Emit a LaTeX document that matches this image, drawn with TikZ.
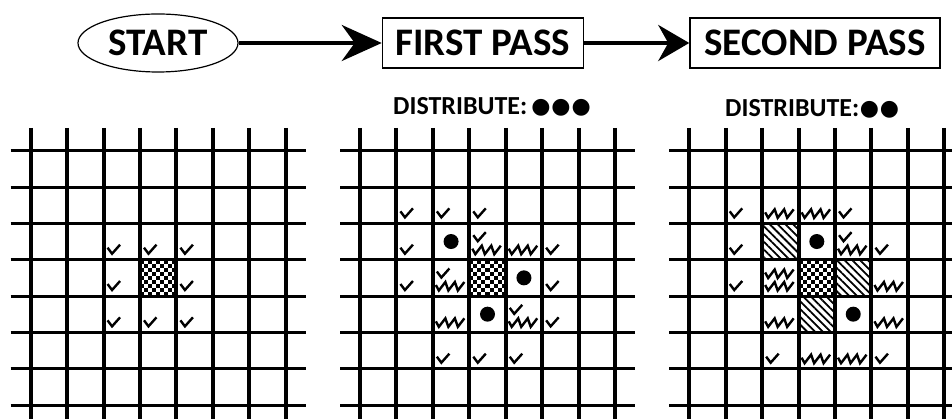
\documentclass[tikz,border=0pt]{standalone}
\usepackage{fontspec}
\setmainfont{Carlito}
\newfontfamily\dejavu{DejaVu Sans}
\usetikzlibrary{arrows.meta,shapes.geometric,patterns.meta}

\newcommand\gx{36.43}
\newcommand\gy{36.33}
\newcommand\gtop{150.7}
% mark: X, col, row, pic, level
\newcommand\mk[5]{\pic at ({#1+\gx*#2},{\gtop+\gy*(#3+1)-12.5*#5}) {#4};}
\newcommand\dt[3]{\fill ({#1+\gx*(#2+0.5)},{\gtop+\gy*(#3+0.5)}) circle (7.5pt);}
\newcommand\hatchat[3]{\fill[hatchcell] ({#1+\gx*#2},{\gtop+\gy*#3}) rectangle ++(\gx,\gy);}
\newcommand\checkerat[3]{%
  \begin{scope}
  \clip ({#1+\gx*#2},{\gtop+\gy*#3}) rectangle ++(\gx,\gy);
  \foreach \i in {0,...,8}{\foreach \j in {0,...,8}{%
    \pgfmathtruncatemacro\pq{mod(\i+\j,2)}%
    \ifnum\pq=0 \fill ({#1+\gx*#2+\i*\gx/9},{\gtop+\gy*#3+\j*\gy/9}) rectangle ++({\gx/9},{\gy/9});\fi}}
  \end{scope}}
\newcommand\gridat[1]{%
  \foreach \k in {0,...,7}{\draw[vline] ({#1+\gx*\k},128) -- ({#1+\gx*\k},419);}
  \foreach \k in {0,...,7}{\draw[hline] ({#1-20},{\gtop+\gy*\k}) -- ({#1+275},{\gtop+\gy*\k});}}
\newcommand\bigdots[1]{\raisebox{1.5pt}{\dejavu\fontsize{22}{24}\selectfont #1}}

\begin{document}
\begin{tikzpicture}[x=1pt,y=-1pt,
  vline/.style={line width=4pt},
  hline/.style={line width=3pt},
  tick/.style={line width=2.4pt, line join=miter, line cap=butt},
  hatchcell/.style={pattern={Lines[angle=-45,distance=5.5pt,line width=1.8pt]}},
  flowfont/.style={font=\bfseries\fontsize{39}{42}\selectfont},
  flowbox/.style={draw, line width=1.5pt, minimum height=50pt, inner sep=0pt, flowfont},
  distfont/.style={anchor=base west, inner sep=0pt, font=\bfseries\fontsize{26}{28}\selectfont},
  chkone/.pic={\draw[tick] (4,-12) -- (8.5,-6) -- (16.5,-15);},
  chkthree/.pic={\draw[tick] (3,-11) -- (6,-5.5) -- (12.5,-14) -- (15.5,-5.5) -- (22,-14) -- (25,-5.5) -- (31.5,-14);},
  flowarrow/.style={line width=4pt}
]
\useasboundingbox (0,0) rectangle (952,419);

% ---------- top flow ----------
\node[ellipse, draw, line width=1.2pt, minimum width=160pt, minimum height=58pt, inner sep=0pt,
  flowfont] (start) at (158,43) {START};
\node[flowbox, minimum width=201pt] (first) at (483,43) {FIRST PASS};
\node[flowbox, minimum width=250pt] (second) at (815,43) {SECOND PASS};
\draw[flowarrow, -{Stealth[length=40pt,width=36pt,inset=13pt]}] (start) -- (first);
\draw[flowarrow, -{Stealth[length=31pt,width=36pt,inset=10pt]}] (first) -- (second);

\node[distfont] (d1) at (393,115)
  {DISTRIBUTE:\kern4pt\bigdots{●\kern1pt●\kern1pt●}};
\node[distfont] (d2) at (725,117)
  {DISTRIBUTE:\kern0.5pt\bigdots{●\kern1pt●}};

% ---------- grid 1 ----------
\def\GA{30.7}
\checkerat{\GA}{3}{3}
\mk{\GA}{2}{2}{chkone}{0} \mk{\GA}{3}{2}{chkone}{0} \mk{\GA}{4}{2}{chkone}{0}
\mk{\GA}{2}{3}{chkone}{0} \mk{\GA}{4}{3}{chkone}{0}
\mk{\GA}{2}{4}{chkone}{0} \mk{\GA}{3}{4}{chkone}{0} \mk{\GA}{4}{4}{chkone}{0}
\gridat{\GA}

% ---------- grid 2 ----------
\def\GB{360}
\checkerat{\GB}{3}{3}
\dt{\GB}{2}{2} \dt{\GB}{4}{3} \dt{\GB}{3}{4}
\mk{\GB}{1}{1}{chkone}{0} \mk{\GB}{2}{1}{chkone}{0} \mk{\GB}{3}{1}{chkone}{0}
\mk{\GB}{1}{2}{chkone}{0} \mk{\GB}{3}{2}{chkone}{1} \mk{\GB}{3}{2}{chkthree}{0}
\mk{\GB}{4}{2}{chkthree}{0} \mk{\GB}{5}{2}{chkone}{0}
\mk{\GB}{1}{3}{chkone}{0} \mk{\GB}{2}{3}{chkone}{1} \mk{\GB}{2}{3}{chkthree}{0}
\mk{\GB}{5}{3}{chkone}{0}
\mk{\GB}{2}{4}{chkthree}{0} \mk{\GB}{4}{4}{chkone}{1} \mk{\GB}{4}{4}{chkthree}{0}
\mk{\GB}{5}{4}{chkone}{0}
\mk{\GB}{2}{5}{chkone}{0} \mk{\GB}{3}{5}{chkone}{0} \mk{\GB}{4}{5}{chkone}{0}
\gridat{\GB}

% ---------- grid 3 ----------
\def\GC{689.3}
\checkerat{\GC}{3}{3}
\hatchat{\GC}{2}{2} \hatchat{\GC}{4}{3} \hatchat{\GC}{3}{4}
\dt{\GC}{3}{2} \dt{\GC}{4}{4}
\mk{\GC}{1}{1}{chkone}{0} \mk{\GC}{2}{1}{chkthree}{0} \mk{\GC}{3}{1}{chkthree}{0} \mk{\GC}{4}{1}{chkone}{0}
\mk{\GC}{1}{2}{chkone}{0} \mk{\GC}{4}{2}{chkone}{1} \mk{\GC}{4}{2}{chkthree}{0} \mk{\GC}{5}{2}{chkone}{0}
\mk{\GC}{1}{3}{chkone}{0} \mk{\GC}{2}{3}{chkthree}{1} \mk{\GC}{2}{3}{chkthree}{0} \mk{\GC}{5}{3}{chkthree}{0}
\mk{\GC}{2}{4}{chkthree}{0} \mk{\GC}{5}{4}{chkthree}{0}
\mk{\GC}{2}{5}{chkone}{0} \mk{\GC}{3}{5}{chkthree}{0} \mk{\GC}{4}{5}{chkthree}{0} \mk{\GC}{5}{5}{chkone}{0}
\gridat{\GC}
\end{tikzpicture}
\end{document}
